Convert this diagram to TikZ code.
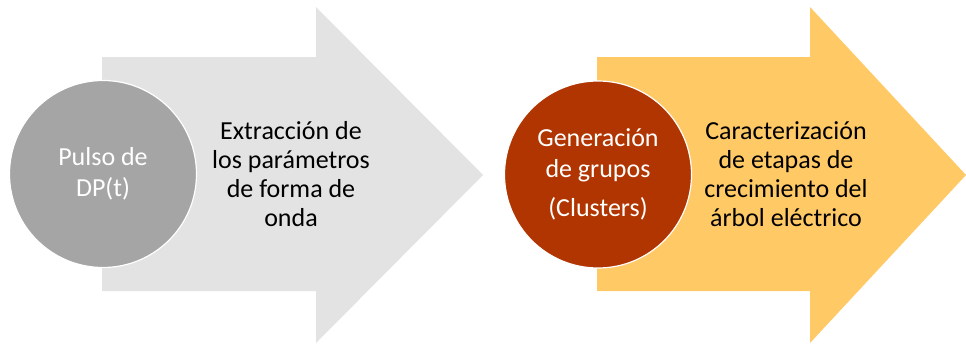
\documentclass[tikz,border=0pt]{standalone}
\usepackage{fontspec}
\setmainfont{Carlito}
\definecolor{arrgray}{HTML}{E3E3E3}
\definecolor{circgray}{HTML}{A5A5A5}
\definecolor{arrgold}{HTML}{FFC966}
\definecolor{circred}{HTML}{B13500}
\begin{document}
\begin{tikzpicture}[x=1pt,y=-1pt,
  disc/.style={circle,draw=white,line width=1.2pt,minimum size=187pt,inner sep=0pt,text=white,align=center,font=\fontsize{26}{30.5}\selectfont},
  lbl/.style={align=center,text=black,font=\fontsize{26}{29}\selectfont}]
\useasboundingbox (0,0) rectangle (966,343);
\fill[arrgray] (102,57) -- (316,57) -- (316,7) -- (483,175) -- (316,343) -- (316,291) -- (102,291) -- cycle;
\fill[arrgold] (597,57) -- (810,57) -- (810,7) -- (966,175) -- (810,343) -- (810,291) -- (597,291) -- cycle;
\node[disc,fill=circgray] (p) at (103,174) {Pulso de\\DP(t)};
\node[disc,fill=circred] (g) at (598,174.5) {Generación\\de grupos\\[9pt](Clusters)};
\node[lbl] (e) at (291,174) {Extracción de\\los parámetros\\de forma de\\onda};
\node[lbl] (c) at (786,174) {Caracterización\\de etapas de\\crecimiento del\\árbol eléctrico};
\end{tikzpicture}
\end{document}
